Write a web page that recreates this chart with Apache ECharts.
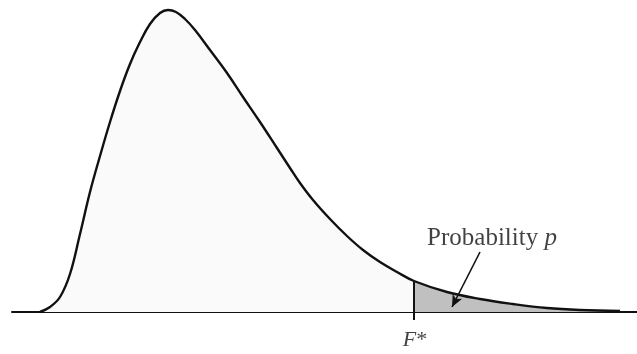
<!DOCTYPE html>
<html>
<head>
<meta charset="utf-8">
<script src="https://cdn.jsdelivr.net/npm/echarts@6/dist/echarts.min.js"></script>
<style>
  html, body { margin: 0; padding: 0; background: #fff; }
  #chart-container { width: 637px; height: 354px; }
</style>
</head>
<body>
<div id="chart-container"></div>
<script>
var dom = document.getElementById("chart-container");
var myChart = echarts.init(dom, null, { renderer: "canvas" });

// density curve
var curveX = [40, 50, 60, 70, 80, 90, 100, 110, 120, 130, 140, 150, 160, 168, 176, 185, 195, 210, 227, 243, 260, 277, 290, 300, 313, 330, 347, 363, 380, 397, 414, 447, 480, 513, 547, 580, 620];
var curveY = [0, 5, 15, 38, 78, 120, 156, 190, 221, 248, 270, 288, 299, 302, 300, 293, 282, 262, 239, 215, 190, 164, 144, 129, 112, 93, 76, 62, 50, 40, 31, 20, 13, 8, 4, 2, 1];

var fStar = 414;
var probLabel = "Probability";
var probVar = "p";

var curve = curveX.map(function (x, i) { return [x, curveY[i]]; });
var tail = curve.filter(function (p) { return p[0] >= fStar; });
var fStarY = curveY[curveX.indexOf(fStar)];

var serif = "Liberation Serif";
var ink = "#111";

var option = {
  animation: false,
  backgroundColor: "#fff",
  grid: { left: 12, right: 0, top: 0, bottom: 0 },
  xAxis: {
    type: "value",
    min: 12,
    max: 637,
    axisLine: { show: true, onZero: true, lineStyle: { color: ink, width: 2 } },
    axisTick: { show: false },
    axisLabel: { show: false },
    splitLine: { show: false }
  },
  yAxis: {
    type: "value",
    min: -42,
    max: 312,
    show: false,
    splitLine: { show: false }
  },
  series: [
    {
      // faint fill under the whole curve
      type: "line",
      data: curve,
      smooth: 0.4,
      showSymbol: false,
      lineStyle: { width: 0 },
      areaStyle: { color: "#fafafa", opacity: 1 },
      z: 1
    },
    {
      // shaded tail beyond F*
      type: "line",
      data: tail,
      smooth: 0.4,
      showSymbol: false,
      lineStyle: { width: 0 },
      areaStyle: { color: "#c0c0c0", opacity: 1 },
      z: 2
    },
    {
      type: "line",
      data: curve,
      smooth: 0.4,
      showSymbol: false,
      lineStyle: { color: ink, width: 2.4 },
      z: 3
    },
    {
      type: "line",
      data: [[fStar, -8], [fStar, fStarY]],
      showSymbol: false,
      lineStyle: { color: ink, width: 2 },
      z: 4,
      markLine: {
        silent: true,
        symbol: ["none", "arrow"],
        symbolSize: [8, 12],
        label: { show: false },
        lineStyle: { color: ink, width: 1.6, type: "solid" },
        data: [[{ coord: [480, 60] }, { coord: [452, 5] }]]
      }
    },
    {
      type: "scatter",
      symbolSize: 0,
      z: 5,
      data: [
        {
          value: [415, -28],
          label: {
            show: true,
            position: "inside",
            formatter: "{i|F}{n|*}",
            rich: {
              i: { fontFamily: serif, fontStyle: "italic", fontSize: 22, color: ink },
              n: { fontFamily: serif, fontSize: 22, color: ink }
            }
          }
        },
        {
          value: [492, 74],
          label: {
            show: true,
            position: "inside",
            formatter: "{n|" + probLabel + " }{i|" + probVar + "}",
            rich: {
              n: { fontFamily: serif, fontSize: 25, color: ink },
              i: { fontFamily: serif, fontStyle: "italic", fontSize: 25, color: ink }
            }
          }
        }
      ]
    }
  ]
};

myChart.setOption(option);
window.addEventListener("resize", myChart.resize);
</script>
</body>
</html>
